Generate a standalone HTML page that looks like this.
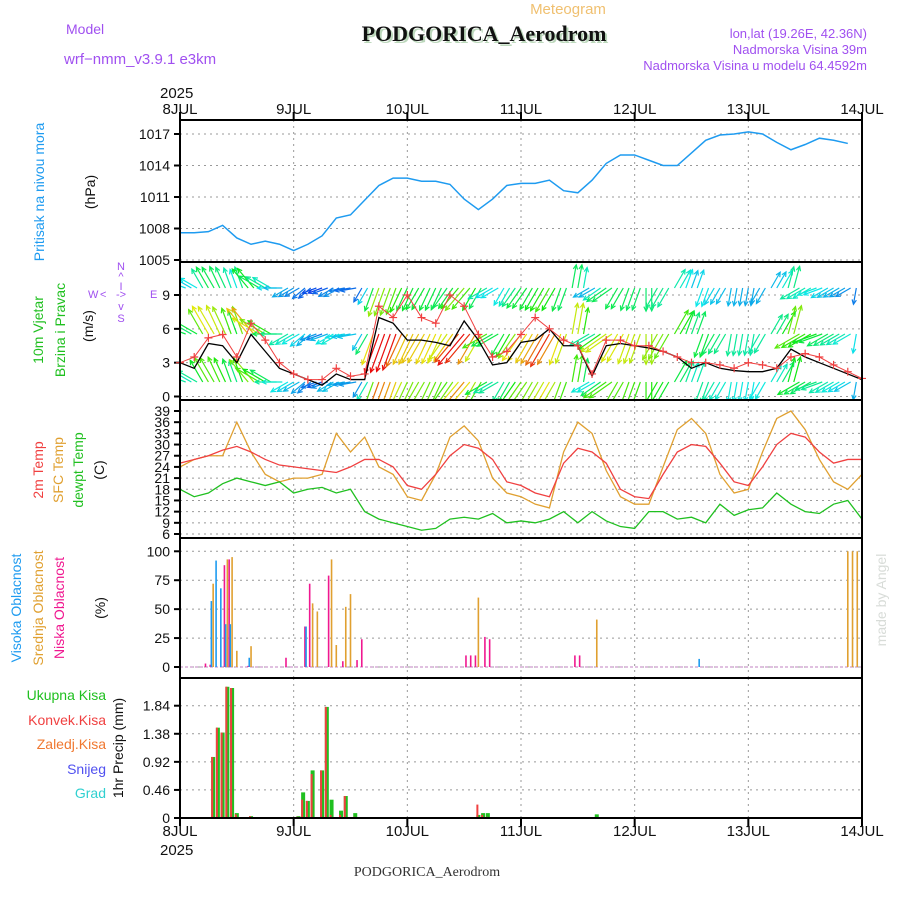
<!DOCTYPE html>
<html><head><meta charset="utf-8"><style>
body{margin:0;background:#fff;width:900px;height:900px;overflow:hidden}
svg{font-family:"Liberation Sans",sans-serif}
</style></head><body>
<svg id="c" width="900" height="900" xmlns="http://www.w3.org/2000/svg">
<text x="568" y="14" font-size="15" fill="#f0c070" text-anchor="middle">Meteogram</text>
<text x="486" y="43" font-size="22" font-weight="bold" font-family="Liberation Serif,serif" fill="#bcd8bc" text-anchor="middle">PODGORICA_Aerodrom</text>
<text x="484" y="41" font-size="22" font-weight="bold" font-family="Liberation Serif,serif" fill="#111" text-anchor="middle">PODGORICA_Aerodrom</text>
<text x="66" y="34" font-size="14" fill="#a050f0">Model</text>
<text x="64" y="64" font-size="15" fill="#a050f0">wrf−nmm_v3.9.1 e3km</text>
<text x="867" y="38" font-size="13" fill="#a050f0" text-anchor="end">lon,lat (19.26E, 42.36N)</text>
<text x="867" y="54" font-size="13" fill="#a050f0" text-anchor="end">Nadmorska Visina 39m</text>
<text x="867" y="70" font-size="13" fill="#a050f0" text-anchor="end">Nadmorska Visina u modelu 64.4592m</text>
<text x="160" y="98" font-size="15" fill="#111">2025</text>
<text x="160" y="855" font-size="15" fill="#111">2025</text>
<text x="427" y="876" font-size="14" font-family="Liberation Serif,serif" fill="#333" text-anchor="middle">PODGORICA_Aerodrom</text>
<text transform="translate(886,600) rotate(-90)" font-size="14" fill="#d8dcd8" text-anchor="middle">made by Angel</text>
<g font-size="14">
<text transform="translate(44,192) rotate(-90)" fill="#1e9bf0" text-anchor="middle">Pritisak na nivou mora</text>
<text transform="translate(95,192) rotate(-90)" fill="#111" text-anchor="middle">(hPa)</text>
<text transform="translate(43,330) rotate(-90)" fill="#20c020" text-anchor="middle">10m Vjetar</text>
<text transform="translate(65,330) rotate(-90)" fill="#20c020" text-anchor="middle">Brzina i Pravac</text>
<text transform="translate(93,326) rotate(-90)" fill="#111" text-anchor="middle">(m/s)</text>
<text transform="translate(43,470) rotate(-90)" fill="#f04040" text-anchor="middle">2m Temp</text>
<text transform="translate(63,470) rotate(-90)" fill="#e0a030" text-anchor="middle">SFC Temp</text>
<text transform="translate(83,470) rotate(-90)" fill="#20c020" text-anchor="middle">dewpt Temp</text>
<text transform="translate(104,470) rotate(-90)" fill="#111" text-anchor="middle">(C)</text>
<text transform="translate(21,608) rotate(-90)" fill="#1e9bf0" text-anchor="middle">Visoka Oblacnost</text>
<text transform="translate(43,608) rotate(-90)" fill="#e0a030" text-anchor="middle">Srednja Oblacnost</text>
<text transform="translate(64,608) rotate(-90)" fill="#f01890" text-anchor="middle">Niska Oblacnost</text>
<text transform="translate(105,608) rotate(-90)" fill="#111" text-anchor="middle">(%)</text>
<text x="106" y="700" fill="#20c020" text-anchor="end">Ukupna  Kisa</text>
<text x="106" y="725" fill="#f04040" text-anchor="end">Konvek.Kisa</text>
<text x="106" y="749" fill="#f07830" text-anchor="end">Zaledj.Kisa</text>
<text x="106" y="774" fill="#5050f0" text-anchor="end">Snijeg</text>
<text x="106" y="798" fill="#30d0d0" text-anchor="end">Grad</text>
<text transform="translate(123,748) rotate(-90)" fill="#111" text-anchor="middle">1hr Precip (mm)</text>
</g>
<g font-size="11" fill="#a050f0">
<text x="121" y="270" text-anchor="middle">N</text><text x="121" y="280" text-anchor="middle">^</text>
<text x="121" y="290" text-anchor="middle">I</text><text x="121" y="298" text-anchor="middle">-&gt;</text>
<text x="88" y="298">W</text><text x="100" y="298">&lt;</text><text x="150" y="298">E</text>
<text x="121" y="310" text-anchor="middle">v</text><text x="121" y="322" text-anchor="middle">S</text>
</g>
<g id="g"></g>
</svg>
<script>
const hours3=[0,3,6,9,12,15,18,21,24,27,30,33,36,39,42,45,48,51,54,57,60,63,66,69,72,75,78,81,84,87,90,93,96,99,102,105,108,111,114,117,120,123,126,129,132,135,138,141,144];
const pressure=[1007.6,1007.6,1007.7,1008.3,1007.1,1006.5,1006.8,1006.5,1005.9,1006.5,1007.3,1009.0,1009.3,1010.7,1012.1,1012.8,1012.8,1012.5,1012.5,1012.2,1010.8,1009.8,1010.8,1012.1,1012.3,1012.3,1012.6,1011.6,1011.4,1012.6,1014.2,1015.0,1015.0,1014.5,1014.0,1014.0,1015.2,1016.4,1016.9,1017.0,1017.2,1017.0,1016.2,1015.5,1016.0,1016.6,1016.4,1016.1];
const windSpeed=[3,2.5,4.7,4.5,3,5.5,4,2.5,2,1.5,1,2,1.5,1.5,7,6.5,5,5,4.8,4.5,6.7,5,2.8,3,4.8,5,6,4.5,4.5,1.8,4.5,4.7,4.5,4.3,4,3.5,2.5,3,2.5,2.3,2.2,2.2,2.5,4.2,3.5,3,2.5,2,1.5];
const windGust=[3,3.5,5.2,5.5,3.5,6.5,5,3,2,1.5,1.5,2.5,1.8,2,8,7,9,7,6.5,9,8,5.5,3.5,4,5.5,7,6,5,4.5,2,5,5,4.5,4.5,4,3.5,3,3,2.8,2.5,3,2.8,2.5,3.5,3.8,3.5,2.8,2.2,1.6];
const windDir=[-70,-60,-30,-25,-20,-40,-60,-90,-120,-130,-110,-120,-100,-150,-160,-160,-155,-150,-155,-145,-140,-150,-120,-150,-145,-150,-150,-160,10,-120,-125,-150,-160,180,-150,30,20,-160,-150,-170,-170,-150,30,15,-120,-110,-120,-120,-170];
const temp2m=[25,26,27,28.5,29.5,28,26,24.5,24,23.5,23,22.5,24,26,26,24,19,18,22,27,30,29,26,20,19,17,16,25,29,28,25,18,16,15.5,22,28,30,29.5,25,20,19,24,30,33,32,28,25,26,26];
const tempSfc=[24,26,27,27,36,28,22,20,21,21,22,33,28,32,24,22,16,15,22,32,35,31,21,17,16,14,13,28,36,33,23,16,14,14,24,34,37,33,22,17,18,28,37,39,34,26,20,18,22];
const dewpt=[18,16,17,19.5,21,20,19,20,17,18,18.5,17,18,12,10,9,8,7,7.5,10,10.5,10,11.5,9,9.5,9,10,12,9,12,9.5,8,7.5,12,12,10,10.5,9,14,11,12.5,13,17,14,12,11.5,14,15,10];
const cloudHours=[5,6,7,8,9,10,11,12,14,15,22,26,27,28,29,31,32,33,34,35,36,37,38,60,61,62,63,64,65,83,84,88,110,141,142,143];
const cloudHigh=[0,0,57,92,68,37,37,0,0,8,0,0,35,0,0,0,0,0,0,0,0,0,0,0,0,0,0,0,0,0,0,0,7,0,0,0];
const cloudMid=[0,0,72,0,0,93,95,14,0,18,0,0,0,55,48,0,93,19,0,52,63,0,0,0,0,0,60,0,0,0,0,41,0,100,100,100];
const cloudLow=[3,2,0,0,88,93,0,0,1,0,8,35,72,0,0,79,0,0,5,0,0,6,24,10,10,10,0,26,24,10,10,0,0,0,0,0];
const precipHours=[7,8,9,10,11,12,15,25,26,27,28,30,31,32,34,35,37,63,64,65,88];
const precipTotal=[1.0,1.48,1.40,2.15,2.13,0.08,0.03,0.03,0.42,0.28,0.78,0.78,1.82,0.30,0.12,0.36,0.08,0.05,0.08,0.08,0.06];
const precipConv=[1.0,1.48,1.40,2.15,2.13,0.06,0.03,0.02,0.3,0.28,0.72,0.78,1.82,0.05,0.05,0.36,0.02,0.22,0.05,0.02,0];
const dayLabels=["8JUL","9JUL","10JUL","11JUL","12JUL","13JUL","14JUL"];
const pTicks=[1005,1008,1011,1014,1017];
const wTicks=[0,3,6,9];
const tTicks=[6,9,12,15,18,21,24,27,30,33,36,39];
const cTicks=[0,25,50,75,100];
const rTicks=[0,0.46,0.92,1.38,1.84];

const NS="http://www.w3.org/2000/svg";
const G=document.getElementById('g');
function el(tag,attrs,parent){const e=document.createElementNS(NS,tag);for(const k in attrs)e.setAttribute(k,attrs[k]);(parent||G).appendChild(e);return e;}
const X0=180,X1=862;
const xs=h=>X0+h*(X1-X0)/144;
function lin(d0,d1,r0,r1){return v=>r0+(v-d0)*(r1-r0)/(d1-d0);}
const yP=lin(1005,1017,260,134), yW=lin(0,9,396.5,295), yT=lin(6,39,534,411), yC=lin(0,100,667,551.3), yR=lin(0,1.84,818,705.7);
const panels=[[120,262,pTicks,yP],[262,400,wTicks,yW],[400,538,tTicks,yT],[538,678,cTicks,yC],[678,818,rTicks,yR]];
const names=['pressure','wind','temp','cloud','precip'];
panels.forEach((p,i)=>{
  const g=el('g',{});
  
  
  for(let d=1;d<6;d++){const l=el('line',{x1:xs(d*24),x2:xs(d*24),y1:p[0],y2:p[1],stroke:'#999','stroke-dasharray':'2,4'},g);
    }
  p[2].forEach(v=>{const y=p[3](v);
    const l=el('line',{x1:X0,x2:X1,y1:y,y2:y,stroke:'#999','stroke-dasharray':'2,4'},g);
    
    el('line',{x1:X0-6,x2:X0,y1:y,y2:y,stroke:'#000','stroke-width':2},g);
    const t=el('text',{x:X0-10,y:y+5,'font-size':14,'text-anchor':'end',fill:'#111'},g);t.textContent=(names[i]=='precip'?(v==0?'0':v.toFixed(2)):v);
    });
});
dayLabels.forEach((d,i)=>{
  [[114,112,120],[836,818,826]].forEach(([ty,a,b])=>{
    const t=el('text',{x:xs(i*24),y:ty,'font-size':15,'text-anchor':'middle',fill:'#111'});t.textContent=d;
    
    el('line',{x1:xs(i*24),x2:xs(i*24),y1:a,y2:b,stroke:'#000','stroke-width':2});
  });
});
const pl=el('polyline',{points:pressure.map((v,i)=>xs(hours3[i])+','+yP(v)).join(' '),fill:'none',stroke:'#1e9bf0','stroke-width':1.5});


// wind arrows
const cp=el('clipPath',{id:'wclip'});el('rect',{x:X0,y:263,width:X1-X0,height:136},cp);
const wg=el('g',{'clip-path':'url(#wclip)'});
function interp(arr,h){const i=Math.min(arr.length-2,Math.floor(h/3));const f=(h-hours3[i])/3;return arr[i]+(arr[i+1]-arr[i])*f;}
[[288,0.6],[334,1.0],[382,0.8]].forEach(([base,fac])=>{
  for(let h=0;h<144;h+=1.2){
    const k=Math.min(hours3.length-1,Math.round(h/3));
    const sp=interp(windSpeed,h)*fac+1;
    const a=windDir[k]*Math.PI/180, L=8+sp*4.2;
    const x1=xs(h),y1=base, x2=x1+L*Math.sin(a), y2=y1-L*Math.cos(a);
    const hue=Math.max(0,Math.min(275,290-sp*40));
    const c=`hsl(${hue},90%,48%)`;
    const ar=el('g',{stroke:c,'stroke-width':1.2,fill:'none'},wg);
    
    
    el('line',{x1,y1,x2,y2},ar);
    const b1=a+Math.PI-0.45,b2=a+Math.PI+0.45;
    el('polyline',{points:`${x2+5*Math.sin(b1)},${y2-5*Math.cos(b1)} ${x2},${y2} ${x2+5*Math.sin(b2)},${y2-5*Math.cos(b2)}`},ar);
  }
});
const wl=el('polyline',{points:windSpeed.map((v,i)=>xs(hours3[i])+','+yW(v)).join(' '),fill:'none',stroke:'#000','stroke-width':1.3});


const gl=el('polyline',{points:windGust.map((v,i)=>xs(hours3[i])+','+yW(v)).join(' '),fill:'none',stroke:'#f04040','stroke-width':1});


windGust.forEach((v,i)=>{const x=xs(hours3[i]),y=yW(v);
  const m=el('path',{d:`M${x-4},${y}H${x+4}M${x},${y-4}V${y+4}`,stroke:'#f04040','stroke-width':1.2});
  
  });
[[tempSfc,'#e0a030','sfc-temp-line'],[temp2m,'#f04040','temp-2m-line'],[dewpt,'#20c020','dewpoint-line']].forEach(([arr,c,n])=>{
  const l=el('polyline',{points:arr.map((v,i)=>xs(hours3[i])+','+yT(v)).join(' '),fill:'none',stroke:c,'stroke-width':1.3});
  
  
});
el('line',{x1:X0,x2:X1,y1:yC(0),y2:yC(0),stroke:'#c080c0','stroke-dasharray':'3,2'});
cloudHours.forEach((h,i)=>{
  [[cloudHigh,'#1e9bf0',-1.8],[cloudMid,'#e0a030',0],[cloudLow,'#f01890',1.8]].forEach(([arr,c,o])=>{
    const v=arr[i];if(!v)return;
    const r=el('rect',{x:xs(h)+o-0.8,y:yC(v),width:1.6,height:yC(0)-yC(v),fill:c});
    
    
  });
});
precipHours.forEach((h,i)=>{
  const rt=el('rect',{x:xs(h)-2,y:yR(precipTotal[i]),width:4,height:yR(0)-yR(precipTotal[i]),fill:'#20c020'});
  
  
  if(precipConv[i]>0){const rc=el('rect',{x:xs(h)-2,y:yR(precipConv[i]),width:2,height:yR(0)-yR(precipConv[i]),fill:'#f04040'});
  
  }
});
[120,262,400,538,678].forEach((y,i)=>{el('rect',{x:X0,y:y,width:X1-X0,height:[142,138,138,140,140][i],fill:'none',stroke:'#000','stroke-width':2});});
</script>
</body></html>
